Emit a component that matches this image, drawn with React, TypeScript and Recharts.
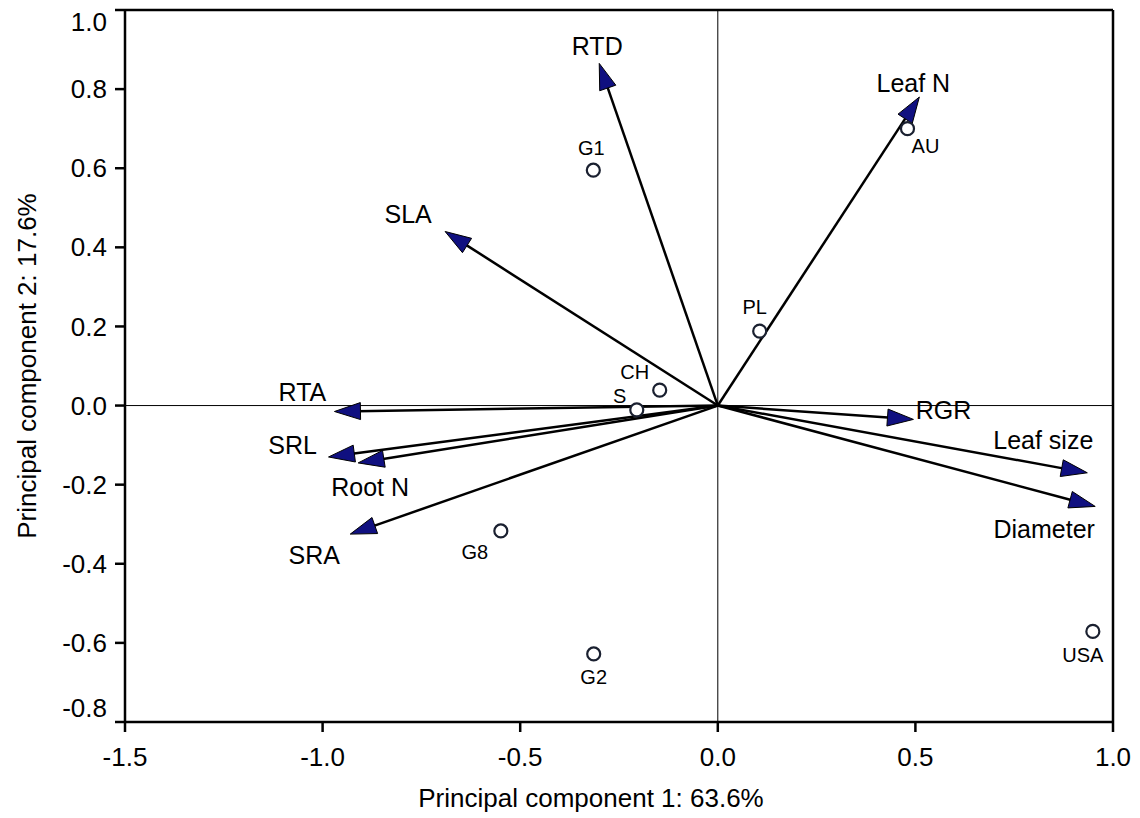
import { ScatterChart, Scatter, XAxis, YAxis, ReferenceLine } from "recharts";

// trait loadings (arrow tips)
const loadingNames = ["RTD", "Leaf N", "SLA", "RTA", "SRL", "Root N", "SRA", "RGR", "Leaf size", "Diameter"];
const loadingPC1 = [-0.3, 0.51, -0.69, -0.97, -0.985, -0.91, -0.93, 0.495, 0.935, 0.955];
const loadingPC2 = [0.865, 0.78, 0.44, -0.015, -0.13, -0.145, -0.325, -0.035, -0.17, -0.255];

// population scores
const siteNames = ["G1", "AU", "PL", "CH", "S", "G8", "G2", "USA"];
const sitePC1 = [-0.315, 0.48, 0.106, -0.147, -0.205, -0.549, -0.314, 0.949];
const sitePC2 = [0.595, 0.7, 0.188, 0.039, -0.011, -0.317, -0.628, -0.571];

const xTicks = [-1.5, -1.0, -0.5, 0.0, 0.5, 1.0];
const yTicks = [-0.8, -0.6, -0.4, -0.2, 0.0, 0.2, 0.4, 0.6, 0.8, 1.0];

const FONT = "'Liberation Sans', Arial, sans-serif";
const ARROW_FILL = "#101080";
const POINT_STROKE = "#1a2030";
const FRAME_W = 2.5;

// label placement relative to arrow tip / point (pixels)
const arrowLabelOffset: Record<string, [number, number]> = {
  RTD: [-2, -17],
  "Leaf N": [-6, -14],
  SLA: [-37, -17],
  RTA: [-32, -19],
  SRL: [-36, -12],
  "Root N": [12, 24],
  SRA: [-36, 21],
  RGR: [30, -9],
  "Leaf size": [-44, -33],
  Diameter: [-51, 23],
};

const pointLabelOffset: Record<string, [number, number]> = {
  G1: [-2, -22],
  AU: [18, 17],
  PL: [-5, -24],
  CH: [-25, -18],
  S: [-17, -14],
  G8: [-26, 21],
  G2: [0, 23],
  USA: [-10, 24],
};

const sites = siteNames.map((name, i) => ({ name, x: sitePC1[i], y: sitePC2[i] }));

function Arrow(props: any) {
  const { x1, y1, x2, y2, name } = props;
  const dx = x2 - x1;
  const dy = y2 - y1;
  const len = Math.sqrt(dx * dx + dy * dy) || 1;
  const ux = dx / len;
  const uy = dy / len;
  const L = 26;
  const W = 8.5;
  const bx = x2 - ux * L;
  const by = y2 - uy * L;
  const pts = `${x2},${y2} ${bx - uy * W},${by + ux * W} ${bx + uy * W},${by - ux * W}`;
  const [ox, oy] = arrowLabelOffset[name] ?? [0, 0];
  return (
    <g>
      <line x1={x1} y1={y1} x2={bx + ux * 4} y2={by + uy * 4} stroke="#000" strokeWidth={2.5} />
      <polygon points={pts} fill={ARROW_FILL} stroke="#000" strokeWidth={1} />
      <text
        x={x2 + ox}
        y={y2 + oy}
        dy="0.35em"
        textAnchor="middle"
        fontSize={25}
        fontFamily={FONT}
        fill="#000"
      >
        {name}
      </text>
    </g>
  );
}

function SitePoint(props: any) {
  const { cx, cy, payload } = props;
  const [ox, oy] = pointLabelOffset[payload.name] ?? [0, 0];
  return (
    <g>
      <circle cx={cx} cy={cy} r={6.5} fill="#fff" stroke={POINT_STROKE} strokeWidth={2.2} />
      <text
        x={cx + ox}
        y={cy + oy}
        dy="0.35em"
        textAnchor="middle"
        fontSize={20}
        fontFamily={FONT}
        fill="#000"
      >
        {payload.name}
      </text>
    </g>
  );
}

function XTick(props: any) {
  const { x, y, payload } = props;
  return (
    <text x={x} y={y + 25} dy="0.35em" textAnchor="middle" fontSize={26} fontFamily={FONT} fill="#000">
      {payload.value.toFixed(1)}
    </text>
  );
}

function YTick(props: any) {
  const { x, y, payload } = props;
  // end labels are pulled inside the frame
  const shift = payload.value === 1 ? 12 : payload.value === -0.8 ? -14 : 0;
  return (
    <text x={x} y={y + shift} dy="0.35em" textAnchor="end" fontSize={26} fontFamily={FONT} fill="#000">
      {payload.value.toFixed(1)}
    </text>
  );
}

export default function App() {
  return (
    <div style={{ position: "absolute", left: 0, top: 0, background: "#fff" }}>
      <ScatterChart width={1140} height={818} margin={{ top: 10, right: 27, bottom: 0, left: 0 }}>
        <XAxis
          type="number"
          dataKey="x"
          domain={[-1.5, 1.0]}
          ticks={xTicks}
          allowDataOverflow
          height={96}
          axisLine={{ stroke: "#000", strokeWidth: FRAME_W }}
          tickLine={{ stroke: "#000", strokeWidth: FRAME_W }}
          tickSize={10}
          tickMargin={0}
          tick={<XTick />}
          label={{
            content: (p: any) => {
              const vb = p.viewBox;
              return (
                <text
                  x={vb.x + vb.width / 2 - 28}
                  y={798}
                  dy="0.35em"
                  textAnchor="middle"
                  fontSize={26}
                  fontFamily={FONT}
                  fill="#000"
                >
                  Principal component 1: 63.6%
                </text>
              );
            },
          }}
        />
        <YAxis
          type="number"
          dataKey="y"
          domain={[-0.8, 1.0]}
          ticks={yTicks}
          allowDataOverflow
          width={125}
          axisLine={{ stroke: "#000", strokeWidth: FRAME_W }}
          tickLine={{ stroke: "#000", strokeWidth: FRAME_W }}
          tickSize={10}
          tickMargin={8}
          tick={<YTick />}
          label={{
            content: (p: any) => {
              const vb = p.viewBox;
              const cx = 27;
              const cy = vb.y + vb.height / 2;
              return (
                <text
                  x={cx}
                  y={cy}
                  dy="0.35em"
                  textAnchor="middle"
                  transform={`rotate(-90, ${cx}, ${cy})`}
                  fontSize={26}
                  fontFamily={FONT}
                  fill="#000"
                >
                  Principal component 2: 17.6%
                </text>
              );
            },
          }}
        />
        {/* frame */}
        <ReferenceLine y={1.0} stroke="#000" strokeWidth={FRAME_W} />
        <ReferenceLine x={1.0} stroke="#000" strokeWidth={FRAME_W} />
        {/* zero lines */}
        <ReferenceLine y={0} stroke="#000" strokeWidth={1} />
        <ReferenceLine x={0} stroke="#000" strokeWidth={1} />
        {loadingNames.map((name, i) => (
          <ReferenceLine
            key={name}
            segment={[
              { x: 0, y: 0 },
              { x: loadingPC1[i], y: loadingPC2[i] },
            ]}
            shape={(p: any) => <Arrow {...p} name={name} />}
          />
        ))}
        <Scatter data={sites} shape={<SitePoint />} isAnimationActive={false} />
      </ScatterChart>
    </div>
  );
}
